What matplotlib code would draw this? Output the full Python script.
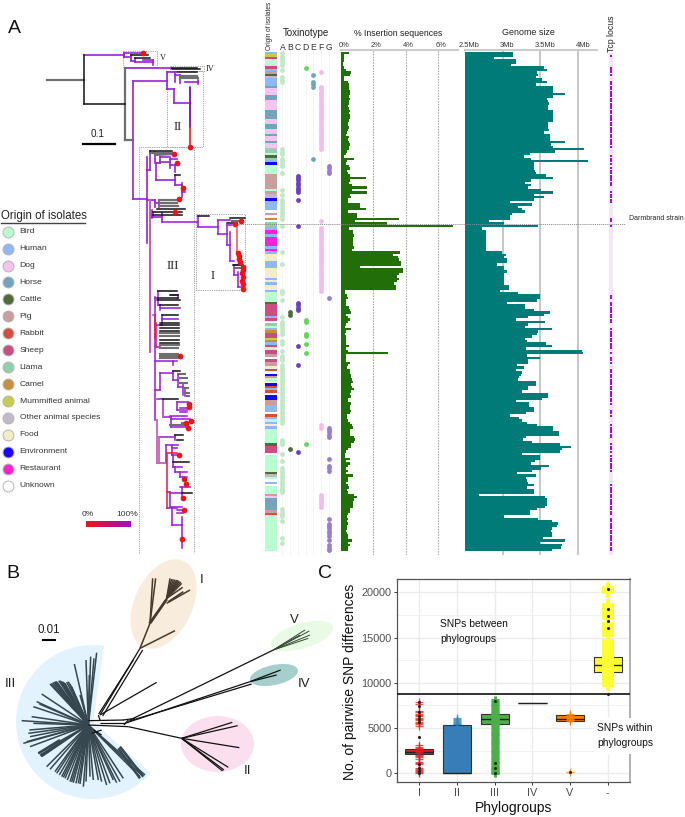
import numpy as np
import matplotlib
matplotlib.use("Agg")
import matplotlib.pyplot as plt
from matplotlib.collections import LineCollection
from matplotlib.patches import Ellipse, Polygon, Rectangle

plt.rcParams['font.family'] = ['Liberation Sans', 'DejaVu Sans']

W, H = 685, 817

# ---- panel A, per isolate values (top to bottom)
is_pct = [.53,.2,.18,.18,.15,.15,.18,.3,.64,.55,.2,.2,.45,.5,.5,.5,.55,.55,.5,.55,.5,.5,.45,.5,.55,.5,.55,.55,.5,.45,
          .45,.5,.45,.4,.35,.5,.45,.5,.55,.5,.5,.4,.3,.2,.85,.4,.35,.5,.6,.4,.45,.55,1.55,.6,.5,.7,1.6,.7,1.6,.6,
          .65,.45,.45,1.2,1.2,1.55,.45,1.0,1.0,3.6,.9,2.85,6.95,.5,.75,.75,.8,.75,.75,.75,.75,.85,.7,3.65,3.2,3.55,3.6,3.7,3.7,1.2,
          3.85,3.85,3.6,3.5,3.6,3.5,3.3,3.4,3.4,.25,.25,.4,.45,.3,.3,.3,.5,.6,.65,.3,.45,.55,.45,.3,.25,.65,.3,.25,.3,.3,
          .3,.3,.5,.3,.45,2.9,.3,.3,.35,.55,.45,.4,.55,.6,.65,.65,.7,.75,.65,.7,.8,.65,.55,.65,.45,.45,.65,.55,.6,.65,
          .55,.4,.4,.42,.55,.7,.75,.6,.55,.6,.8,.9,.8,.65,.65,.45,.3,.25,.25,.6,.3,.55,.45,.3,.45,.3,.75,.45,.45,.3,
          .45,.5,.4,.42,.8,1.0,.8,.76,.75,.75,.6,.55,.45,.4,.45,.4,.45,.4,.4,.33,.4,.45,.45,.7,.45,.55,.45,.45]
genome_mb = [3.13,3.13,2.88,3.18,3.18,3.11,3.54,3.59,3.46,3.47,3.44,3.52,3.59,3.44,3.67,3.67,3.67,3.82,3.66,3.58,3.6,3.61,3.6,3.6,3.66,3.66,3.66,3.66,3.67,3.6,
             3.6,3.6,3.61,3.55,3.63,3.63,3.63,3.83,3.64,3.66,4.08,3.69,3.36,3.28,3.38,4.13,3.42,3.41,3.41,3.43,3.44,3.57,3.66,3.38,3.29,3.38,3.34,3.51,3.66,3.41,
             3.54,3.41,3.09,3.39,3.2,3.25,3.3,3.12,3.1,3.1,2.82,3.01,3.47,2.72,2.78,2.78,2.78,2.78,2.78,2.78,2.78,2.78,2.78,2.99,3.04,3.01,3.05,3.05,2.93,3.01,
             3.02,3.05,3.01,3.02,3.02,3.01,3.01,3.08,3.08,2.96,3.2,3.49,3.49,3.45,3.05,3.3,3.3,3.42,3.63,3.54,3.33,3.17,3.56,3.33,3.29,3.65,3.47,3.46,3.39,3.29,
             3.32,3.57,3.65,3.31,4.05,4.06,3.32,3.5,3.34,3.34,3.19,3.28,3.18,3.26,3.24,3.22,3.2,3.44,3.44,3.34,3.33,3.25,3.6,3.6,3.52,3.18,3.35,3.35,3.41,3.41,
             3.31,3.09,3.21,3.25,3.32,3.45,3.66,3.67,3.74,3.74,3.31,3.27,3.39,3.76,3.9,3.78,3.76,3.26,3.5,3.49,3.43,3.38,3.61,3.51,3.39,3.19,3.44,3.31,3.32,3.34,
             3.42,3.32,3.42,3.42,2.69,3.56,3.58,3.59,3.59,3.56,3.45,3.36,3.36,3.02,3.47,3.65,3.73,3.72,3.65,3.64,3.65,3.65,3.53,3.82,3.5,3.78,3.77,3.65]

origin_names = ['Bird', 'Human', 'Dog', 'Horse', 'Cattle', 'Pig', 'Rabbit', 'Sheep', 'Llama', 'Camel',
                'Mummified animal', 'Other animal species', 'Food', 'Environment', 'Restaurant', 'Unknown']
origin_colors = ['#b9fdd1', '#8fb8f8', '#f5c4ee', '#72a5bd', '#4f6b3a', '#c99f9c', '#d2503d', '#c94f80', '#8fd0ab', '#c79040',
                 '#c8cc48', '#c3b9c6', '#f1edca', '#1a00ff', '#ff22d0', '#ffffff']
# strip of origins as runs: (origin index, number of isolates)
origin_runs = [(1,1),(10,1),(7,1),(0,3),(7,1),(1,1),(5,1),(4,1),(11,1),(1,3),(3,1),(2,3),(3,2),(2,4),(3,4),(2,2),(3,2),(2,2),(3,1),(2,2),
               (3,1),(2,2),(11,1),(8,1),(0,1),(4,1),(8,1),(1,1),(13,1),(0,4),(5,6),(0,1),(5,1),(11,2),(13,1),(1,4),(15,1),(5,1),(15,1),(9,1),
               (15,1),(8,1),(8,1),(1,1),(14,2),(1,1),(14,4),(1,1),(14,1),(1,1),(12,3),(1,3),(12,4),(1,1),(12,1),(1,1),(12,2),(1,1),(0,4),(4,1),
               (7,5),(1,1),(7,1),(15,1),(8,1),(0,1),(1,1),(9,1),(7,2),(10,1),(9,1),(1,1),(7,1),(0,1),(7,2),(5,1),(15,1),(7,1),(5,2),(12,1),
               (6,1),(15,1),(13,1),(5,1),(0,1),(15,1),(13,1),(6,1),(1,1),(6,1),(15,1),(13,2),(5,2),(1,3),(15,1),(6,1),(1,1),(0,1),(1,1),(12,1),
               (1,1),(0,6),(4,1),(7,3),(15,1),(0,7),(4,1),(11,1),(0,1),(15,1),(1,1),(15,1),(0,3),(5,1),(2,1),(3,5),(5,1),(6,1),(0,15)]

tox_labels = ['A', 'B', 'C', 'D', 'E', 'F', 'G']
tox_colors = ['#c2e8c6', '#4f6b3a', '#6a3fc4', '#66d35a', '#72a5bd', '#f3bde8', '#9580cf']
# rows with each toxinotype, as (first, last)
tox_rows = [
    [(0,5),(7,7),(10,12),(40,42),(44,47),(50,50),(57,57),(59,59),(61,69),(72,72),(83,83),(88,88),(99,100),(103,103),(110,110),(112,117),
     (120,121),(124,124),(126,128),(130,154),(161,163),(167,167),(170,170),(173,183),(190,193),(195,195),(202,202),(204,204)],
    [(108,109),(165,165)],
    [(51,56),(57,58),(61,61),(72,72),(104,107),(122,122),(130,130),(166,166)],
    [(6,6),(111,112),(117,118),(121,121),(125,125),(163,163)],
    [(9,9),(12,14),(44,44)],
    [(8,8),(14,40),(70,70),(73,83),(84,88),(89,99),(155,156),(184,189)],
    [(47,50),(102,102),(156,160),(169,169),(172,174),(194,194),(196,201),(203,203),(205,207)],
]
tcp_rows = [(1,1),(6,9),(12,39),(43,46),(48,50),(51,55),(58,62),(69,70),(72,72),(101,102),(104,112),(115,119),(120,123),(125,125),
            (127,129),(132,146),(149,151),(155,160),(163,166),(168,174),(180,192),(194,198),(199,207)]

# ---- tree of panel A, branches in thirds of a pixel (top part, from y=0)
tree_purple = [(253,165,372,165),(372,158,372,172),(372,158,430,158),(372,172,392,172),(392,165,392,182),(392,182,405,182),(405,175,405,187),
               (405,187,460,187),(430,180,460,180),(460,180,460,195),
               (375,205,515,205),(400,243,400,598),(400,243,500,243),(400,598,440,598),
               (500,215,500,268),(500,215,525,215),(525,215,525,245),(525,225,540,225),(540,225,540,250),(500,268,522,268),(522,268,522,310),
               (522,310,571,310),(571,260,571,380),(555,245,595,245),(595,240,595,252),
               (440,470,440,730),(450,452,450,510),(440,510,450,510),(450,460,465,460),(465,455,465,490),(468,490,480,490),(480,470,480,490),
               (480,470,510,470),(480,487,510,487),(510,478,510,505),(510,478,530,478),(510,495,525,495),(525,495,525,515),(468,490,468,540),
               (468,540,525,540),(525,525,525,555),(525,555,545,555),(545,550,545,590),(545,560,555,560),(545,575,555,575),
               (440,600,465,600),(465,600,465,620),(465,610,478,610),(478,600,478,620),(450,650,455,650),(455,630,455,655),(455,645,460,645),
               (460,635,460,650),(460,650,487,650),(487,640,487,665)]
tree_black = [(253,165,253,313),(253,313,375,313),(392,165,445,165),(405,175,450,175),(515,203,590,203),(515,208,600,208),
              (530,215,590,215),(450,452,515,452),(525,525,540,525),(460,635,545,635),(470,628,555,628),(460,645,545,645)]
tree_gray = [(140,240,253,240),(375,205,375,420),(375,420,400,420),(540,228,590,228),(540,235,595,235),(452,458,520,458),(465,465,520,462),
             (478,600,535,600),(478,608,530,608),(478,617,535,617)]
tree_red = [(571,380,571,440)]
# lower part, y counted from pixel row 200
low_purple = [(450,0,450,455),(465,290,465,660),(487,65,595,65),(595,48,595,80),(595,80,655,80),(655,60,655,103),(655,60,690,60),(655,103,680,103),
              (680,75,680,135),(680,75,695,75),(690,95,690,182),(680,135,690,135),(690,182,702,182),(702,195,702,225),(702,195,715,195),(702,225,715,225),
              (715,215,715,260),(715,260,727,260),
              (465,295,475,295),(475,272,475,315),(475,315,480,315),(480,315,480,330),(480,325,540,325),(513,285,535,285),(535,285,535,295),
              (487,345,487,375),(487,358,535,358),(465,375,487,375),(468,440,480,440),(465,483,530,483),(520,483,520,495),
              (465,570,480,570),(480,520,480,570),(480,520,520,520),(520,512,520,540),(520,540,535,540),(535,522,540,522),(535,522,535,560),(535,560,550,560),
              (550,550,550,585),(555,565,555,588),(470,598,490,598),(490,598,490,650),(490,650,513,650),(513,650,513,680),(513,680,560,680),(513,658,570,658),
              (530,605,565,605),(530,605,530,630),(530,630,560,630),(540,625,560,625),(540,635,560,635),(510,648,560,648),
              (478,710,525,710),(525,705,525,720),(497,790,497,735),(497,735,535,735),(515,735,515,765),(515,745,530,745),(515,765,535,765),(520,765,520,800),
              (520,800,545,800),(525,800,525,815),(525,815,560,815),(540,815,540,830),(540,830,560,830),(540,860,570,860),(545,860,545,890),(510,880,545,880),
              (510,875,510,920),(510,920,545,920),(500,925,530,925),(515,925,515,975),(515,975,545,975),(545,950,545,1045),(530,930,555,930),(530,940,550,940)]
low_black = [(595,48,627,48),(690,55,735,55),(680,70,710,70),(475,272,530,272),(510,285,535,285),(475,295,535,295),(472,300,540,300),(480,315,535,315),
             (487,345,535,345),(480,368,537,368),(480,376,537,376),(480,384,537,384),(480,392,537,392),(480,420,537,420),(480,428,537,428),(520,512,540,512),
             (490,598,535,598),(525,705,550,705),(530,720,550,720),(520,785,568,785),(545,878,575,878),(700,195,730,195)]
low_gray = [(695,62,720,62),(480,400,537,400),(480,408,537,408),(480,436,537,436),(480,444,535,444),(480,462,535,462),(480,468,535,468),(480,475,535,475),
            (705,205,725,205),(540,522,555,522),(540,535,560,535),(540,550,560,550),(550,565,565,565),(555,578,568,578),(560,588,568,588),
            (510,675,565,675),(545,670,560,670)]
low_pink = [(712,85,712,155),(450,0,450,455),(470,660,470,790),(470,790,495,790),(478,710,478,790),(460,345,465,345),(490,600,490,650)]
low_red = [(465,345,465,415),(468,370,468,440),(500,760,500,925),(500,760,530,760),(500,875,510,875)]
tip_dots = [(430,158),(571,440),(523,461),(530,490),(550,563),(537,598),(525,635),(723,663),(706,672)]
low_dots = [(714,158),(716,168),(718,178),(721,187),(728,200),(728,210),(727,220),(729,232),(727,243),(728,252),(729,266),
            (539,467),(568,612),(568,622),(573,662),(558,670),(563,684),(536,765),(552,838),(558,852),(548,893),(553,930),(546,1017)]

# ---- panel B, branches in thirds of a pixel, y counted from pixel row 560
b_black = [(300,465,420,265),(308,468,428,270),(296,462,400,300),(300,465,470,367),(390,480,820,270),(375,490,750,365),(385,484,755,372),(265,495,385,500),(265,482,372,480),
           (300,490,375,490),(385,500,545,535),(370,480,405,475),(372,495,385,480),(545,535,697,487),(545,535,713,497),(545,535,718,563),(545,535,685,622),(545,535,672,630),
           (545,535,668,633),(750,365,842,330),(750,365,830,345),(280,510,305,525),(275,520,305,510),(295,465,300,480)]
b_brown = [(420,265,450,190),(450,190,500,115),(452,190,502,118),(447,190,498,118),(450,190,458,55),(450,190,467,55),(420,265,525,212),(500,130,570,90),(500,115,510,55),(500,115,515,57),(500,115,520,58),(500,115,525,59),(500,115,530,60),
           (500,115,534,61),(500,115,538,63),(500,115,542,66),(500,115,545,70),(500,115,548,82),(505,125,550,95)]
b_v = [(820,270,915,210),(820,270,928,213),(820,270,930,225),(820,270,925,235),(820,270,900,225)]
fan_x = [290,282,272,258,268,223,240,150,154,158,162,165,168,172,176,180,184,188,192,195,200,205,210,215,125,100,110,118,95,65,100,88,85,90,70,80,90,115,120,125,140,150,165,170,178,185,190,195,202,210,215,220,228,235,240,250,258,270,280,295,305,320,330,340,350,360,370,420,428,435]
fan_y = [278,295,290,300,345,312,405,372,370,368,366,365,364,368,362,362,364,365,368,370,366,365,372,380,402,440,425,432,470,482,490,510,520,530,550,545,560,580,585,590,620,628,635,640,645,650,652,655,660,665,666,668,670,670,672,680,665,650,660,660,665,675,670,660,668,665,655,650,648,645]
b_slate_thick = [(115,580,180,540),(122,588,185,545),(360,560,430,650),(355,565,420,655),(250,470,215,440),(225,445,250,470)]

legend_y0, legend_step = 231.7, 16.93

# ---- panel C
groups = ['I', 'II', 'III', 'IV', 'V', '-']
group_colors = ['#e41a1c', '#377eb8', '#4daf4a', '#984ea3', '#ff7f00', '#ffff33']
q1 = [2100, 0, 5450, 7790, 5750, 11200]
med = [2400, 0, 6000, 7800, 6000, 12000]
q3 = [2700, 5300, 6550, 7810, 6400, 12800]
whislo = [1500, 0, 3900, 7790, 5400, 9800]
whishi = [3300, 5300, 8000, 7810, 6500, 14600]
pts_i = [0,120,240,360,480,600,1000,1150,1300,1600,1750,1900,2050,2200,2350,2500,2650,2800,2950,3100,5250,5400,5550,5700,5850,6000,6150,6300,6450,6600,6750,6900,7700,7900]
pts_ii = [5400,5500,5600,5700,5800,5900,6000,6100]
pts_iii = [0,150,300,450,600,750,900,1100,1300,1500,1700,1900,2100,2300,2500,2700,2900,3100,3300,3500,3700,3900,4100,4300,4500,4700,4900,5100,5300,5500,5700,5900,6100,6300,6500,6700,6900,7100,7300,7500,7700,7900,8050]
pts_v = [100,5800,5900,6000,6100,6200,6300,6400,6500]
pts_all = [9800,10000,10200,10400,10600,10800,11000,11200,11400,11600,11800,12000,12200,12400,12600,12800,13000,13200,13400,13600,13800,14000,14200,14400,14600,
           15300,15500,15700,15900,16100,16300,16500,17200,17400,17600,17800,18000,18200,18400,18600,20000,20150,20300,20450]
out_i = [0,300,600,1000,4000,5700,6000,6300,6800,7400,7900]
out_iii = [0,600,1100,8000]
out_v = [100]
out_all = [8800,16000,16800,17400,18100,20400]
SNP_LINE = 8770


def px_axes(fig, x0, x1, y0, y1):
    return fig.add_axes([x0 / W, 1 - y1 / H, (x1 - x0) / W, (y1 - y0) / H])


def expand(ranges):
    out = []
    for a, b in ranges:
        out.extend(range(a, b + 1))
    return out


def thirds(segs, dy=0):
    return [[(a / 3, (b + dy) / 3), (c / 3, (d + dy) / 3)] for a, b, c, d in segs]


fig = plt.figure(figsize=(W / 100, H / 100), dpi=100)

rows = np.arange(len(is_pct))
ROW_TOP, ROW_H = 52, 2.4
row_lim = ((555 - ROW_TOP) / ROW_H - .5, (50 - ROW_TOP) / ROW_H - .5)

# origin strip
ax_strip = px_axes(fig, 265, 277.4, 50, 555)
strip = []
for idx, n in origin_runs:
    strip += [idx] * n
strip = strip[:len(rows)]
ax_strip.barh(np.arange(len(strip)), 1, height=1, color=[origin_colors[k] for k in strip], linewidth=0)
ax_strip.set_xlim(0, 1)
ax_strip.set_ylim(*row_lim)
ax_strip.axis('off')

# toxinotypes
ax_tox = px_axes(fig, 278.4, 336.8, 50, 555)
for i, r in enumerate(tox_rows):
    ax_tox.axvline(i, color='#f1f1f1', lw=.6, zorder=0)
    ax_tox.scatter([i] * len(expand(r)), expand(r), s=12, color=tox_colors[i], linewidths=0, zorder=2)
ax_tox.set_xlim(-.5, 7)
ax_tox.set_ylim(*row_lim)
ax_tox.axis('off')

# insertion sequences
ax_is = px_axes(fig, 340.7, 457.7, 50, 555)
ax_is.barh(rows, is_pct, height=1.05, color='#226f0a', linewidth=0, zorder=3)
ax_is.set_xlim(0, 117 / 16.2)
ax_is.set_ylim(*row_lim)
ax_is.patch.set_alpha(0)
for s in ['left', 'right', 'bottom']:
    ax_is.spines[s].set_visible(False)
ax_is.spines['top'].set_color('#cccccc')
ax_is.spines['top'].set_linewidth(1.5)
for v in [2, 4, 6]:
    ax_is.axvline(v, color='#aaaaaa', ls=(0, (1.5, 1)), lw=.8, zorder=1)
ax_is.set_xticks([])
ax_is.set_yticks([])
for v, t in zip([0, 2, 4, 6], ['0%', '2%', '4%', '6%']):
    ax_is.annotate(t, (v, 1), xycoords=('data', 'axes fraction'), xytext=(2.2, 1), textcoords='offset points',
                   ha='center', va='bottom', fontsize=5.4, color='#333333')

# genome size
ax_g = px_axes(fig, 465, 597, 50, 555)
ax_g.barh(rows, np.array(genome_mb) - 2.5, left=2.5, height=1.05, color='#007b78', linewidth=0, zorder=3)
ax_g.set_xlim(2.5, 2.5 + 132 / 75.5)
ax_g.set_ylim(*row_lim)
ax_g.patch.set_alpha(0)
for s in ['left', 'right', 'bottom']:
    ax_g.spines[s].set_visible(False)
ax_g.spines['top'].set_color('#cccccc')
ax_g.spines['top'].set_linewidth(1.5)
for v in [3, 3.5, 4]:
    ax_g.axvline(v, color='#bdbdbd', lw=1.2, zorder=1)
ax_g.set_xticks([])
ax_g.set_yticks([])
for v, t in zip([2.5, 3, 3.5, 4], ['2.5Mb', '3Mb', '3.5Mb', '4Mb']):
    ax_g.annotate(t, (v, 1), xycoords=('data', 'axes fraction'), xytext=(3.2, 1), textcoords='offset points',
                  ha='center', va='bottom', fontsize=5.4, color='#333333')

# Tcp locus
ax_tcp = px_axes(fig, 608.5, 612.5, 50, 555)
ax_tcp.axvspan(0, 1, ymin=0, ymax=.995, color='#f3e6fb', lw=0)
tcp = expand(tcp_rows)
ax_tcp.scatter([.5] * len(tcp), tcp, s=2.4, marker='s', color='#9b12d6', linewidths=0)
ax_tcp.set_xlim(0, 1)
ax_tcp.set_ylim(*row_lim)
ax_tcp.axis('off')

# everything drawn in page pixels: trees, legend, labels
ax = fig.add_axes([0, 0, 1, 1], zorder=5)
ax.set_xlim(0, W)
ax.set_ylim(H, 0)
ax.axis('off')
ax.patch.set_alpha(0)

# boxes round the phylogroups
box_style = dict(fill=False, ec='#9a9a9a', lw=.6, ls=(0, (1.5, 1.2)))
for x, y, w, h in [(123.5, 51, 33.5, 16), (170, 66, 34, 5), (167, 71, 36, 76), (196.5, 214, 49, 76)]:
    ax.add_patch(Rectangle((x, y), w, h, **box_style))
ax.plot([139, 139, 194, 194], [553, 147, 147, 553], color='#9a9a9a', lw=.6, ls=(0, (1.5, 1.2)))
ax.plot([238, 625], [224, 224], color='#8a8a8a', lw=.6, ls=(0, (1.5, 1)))

for segs, col, lw in [(thirds(tree_purple), '#9a20d8', 1.2), (thirds(low_purple, 600), '#9a20d8', 1.15),
                      (thirds(low_pink, 600), '#c860c0', 1.3), (thirds(tree_gray), '#6f6f6f', 1.6), (thirds(low_gray, 600), '#6f6f6f', 1.5),
                      (thirds(tree_black), '#111111', 1.1), (thirds(low_black, 600), '#111111', 1.1),
                      (thirds(tree_red), '#ee1c25', 1.2), (thirds(low_red, 600), '#e0204a', 1.15)]:
    ax.add_collection(LineCollection(segs, colors=col, linewidths=lw, zorder=2, capstyle='projecting'))
ax.add_collection(LineCollection([[(571 / 3, 260 / 3), (571 / 3, 380 / 3)]], colors='#7a1fa8', linewidths=1.1, zorder=2))
ax.add_collection(LineCollection([[(712 / 3, 685 / 3), (712 / 3, 755 / 3)]], colors='#f07a80', linewidths=1.5, zorder=2))
ax.scatter([p[0] / 3 for p in tip_dots], [p[1] / 3 for p in tip_dots], s=17, color='#f01414', linewidths=0, zorder=4)
ax.scatter([p[0] / 3 for p in low_dots], [(p[1] + 600) / 3 for p in low_dots], s=17, color='#f01414', linewidths=0, zorder=4)

ax.plot([83, 115], [144, 144], color='k', lw=1.6)
ax.text(97.5, 134, '0.1', ha='center', va='center', fontsize=7.2, color='#222222')
for t, x, y, fs in [('V', 162.5, 58, 6), ('IV', 210.5, 69, 6), ('II', 178, 127, 9.3), ('III', 173, 266, 9.3), ('I', 213, 276, 9.3)]:
    ax.text(x, y, t, ha='center', va='center', fontsize=fs, family='Liberation Serif', color='#222222')

# legend
ax.text(1.5, 215.5, 'Origin of isolates', ha='left', va='center', fontsize=8.3, color='#222222')
ax.plot([1, 85.5], [223, 223], color='#444444', lw=1)
for i, (name, col) in enumerate(zip(origin_names, origin_colors)):
    ax.scatter([8], [legend_y0 + legend_step * i], s=62, color=col, edgecolors='#b5b5b5', linewidths=.7, zorder=3)
    ax.text(19.7, legend_y0 + legend_step * i, name, ha='left', va='center', fontsize=6.1, color='#333333')

ax.imshow(np.linspace(0, 1, 256)[None, :], extent=(86, 131, 527, 521), aspect='auto', zorder=3,
          cmap=matplotlib.colors.LinearSegmentedColormap.from_list('support', ['#f01414', '#9a10c8']))
ax.set_xlim(0, W)
ax.set_ylim(H, 0)
ax.text(88, 514, '0%', ha='center', va='center', fontsize=6.1, color='#333333')
ax.text(127, 514, '100%', ha='center', va='center', fontsize=6.1, color='#333333')

# panel A headers
ax.text(270, 26, 'Origin of isolates', rotation=90, ha='center', va='center', fontsize=4.7, color='#222222')
ax.text(305.5, 33, 'Toxinotype', ha='center', va='center', fontsize=7, color='#222222')
ax.text(398, 33, '% Insertion sequences', ha='center', va='center', fontsize=6.3, color='#222222')
ax.text(528, 32.5, 'Genome size', ha='center', va='center', fontsize=6.4, color='#222222')
ax.text(611.5, 33.5, 'Tcp locus', rotation=90, ha='center', va='center', fontsize=6.3, color='#222222')
ax.text(629, 218, 'Darmbrand strain', ha='left', va='center', fontsize=5, color='#222222')
for i, t in enumerate(tox_labels):
    ax.text(282.4 + i * 7.75, 47.5, t, ha='center', va='center', fontsize=6.2, color='#333333')

ax.text(14, 28, 'A', ha='center', va='center', fontsize=14, color='#111111')
ax.text(12.5, 574, 'B', ha='center', va='center', fontsize=14, color='#111111')
ax.text(325, 574, 'C', ha='center', va='center', fontsize=14, color='#111111')

# panel B shading and branches
ang = np.deg2rad(np.arange(81.6, 320.3, 3))
cx, cy, r = 93, 722, 77
wedge = [(cx, cy)] + [(cx + r * np.cos(a), cy - r * np.sin(a)) for a in ang]
ax.add_patch(Polygon(wedge, closed=True, fc='#e3f3fd', ec='none', zorder=1))
for (x, y, w, h, a, col) in [(163.5, 604, 58, 95, 25, '#f8ecdc'), (217.5, 744, 73, 56, 0, '#fbdfee'),
                             (274, 675, 49, 20, -12, '#a4cfcc'), (302, 636, 65, 25, -17, '#eafbe5')]:
    ax.add_patch(Ellipse((x, y), w, h, angle=a, fc=col, ec='none', zorder=1))
fan = [[(265 / 3, 495 / 3 + 560), (a / 3, b / 3 + 560)] for a, b in zip(fan_x, fan_y)]
ax.add_collection(LineCollection(fan, colors='#37474f', linewidths=1.1, zorder=2))
ax.add_collection(LineCollection(thirds(b_slate_thick, 1680), colors='#37474f', linewidths=1.8, zorder=2))
ax.add_collection(LineCollection(thirds(b_black, 1680), colors='#111111', linewidths=.9, zorder=3))
ax.add_collection(LineCollection(thirds(b_brown, 1680), colors='#44392c', linewidths=1.1, zorder=3))
ax.add_collection(LineCollection(thirds(b_v, 1680), colors='#334433', linewidths=.7, zorder=3))
ax.plot([43.5, 55.5], [639.5, 639.5], color='k', lw=1.5)
ax.text(49, 630, '0.01', ha='center', va='center', fontsize=8.3, color='#222222')
for t, x, y in [('I', 202, 580), ('V', 294, 620), ('IV', 304, 684), ('II', 248, 771), ('III', 10.5, 684)]:
    ax.text(x, y, t, ha='center', va='center', fontsize=9.5, color='#222222')

# panel C
ax_c = px_axes(fig, 397.3, 630, 579.3, 782.3)
stats = [dict(med=m, q1=a, q3=b, whislo=lo, whishi=hi, fliers=[]) for m, a, b, lo, hi in zip(med, q1, q3, whislo, whishi)]
bp = ax_c.bxp(stats, positions=range(1, 7), widths=.75, patch_artist=True, showcaps=False, zorder=3,
              boxprops=dict(edgecolor='#333333', linewidth=.8),
              medianprops=dict(color='#222222', linewidth=1),
              whiskerprops=dict(color='#333333', linewidth=.6))
for box, col in zip(bp['boxes'], group_colors):
    box.set_facecolor(col)
for i, p in enumerate([pts_i, pts_ii, pts_iii, [], pts_v, pts_all]):
    if i == 5:
        ax_c.scatter([i + 1] * len(p), p, marker='+', s=70, lw=2.6, color=group_colors[i], zorder=4)
    elif i == 2:
        ax_c.scatter([i + 1] * len(p), p, marker='+', s=30, lw=2.2, color=group_colors[i], zorder=4)
    else:
        ax_c.scatter([i + 1] * len(p), p, marker='+', s=30, lw=.9, color=group_colors[i], alpha=.75, zorder=4)
for i, p in [(1, out_i), (3, out_iii), (5, out_v), (6, out_all)]:
    ax_c.scatter([i] * len(p), p, s=5, color='#222222', linewidths=0, zorder=5)
ax_c.axhline(SNP_LINE, color='#222222', lw=1.3, zorder=6)
ax_c.set_xlim(.416, 6.59)
ax_c.set_ylim(-995, 21436)
ax_c.set_xticks(range(1, 7))
ax_c.set_xticklabels(groups)
ax_c.set_yticks([0, 5000, 10000, 15000, 20000])
ax_c.set_yticks([2500, 7500, 12500, 17500], minor=True)
ax_c.grid(True, which='major', color='#ebebeb', lw=1, zorder=0)
ax_c.grid(True, which='minor', axis='y', color='#f0f0f0', lw=.6, zorder=0)
ax_c.tick_params(axis='both', which='major', labelsize=7.8, labelcolor='#4d4d4d', color='#333333', length=2.5, width=.7, pad=1.5)
ax_c.tick_params(axis='both', which='minor', length=0)
ax_c.set_axisbelow(True)
for s in ax_c.spines.values():
    s.set_color('#555555')
    s.set_linewidth(.9)
ax_c.spines['right'].set_color('#aaaaaa')
ax_c.spines['right'].set_linewidth(1.3)
ax.text(350, 682, 'No. of pairwise SNP differences', rotation=90, ha='center', va='center', fontsize=10, color='#111111')
ax.text(514, 808, 'Phylogroups', ha='center', va='center', fontsize=10, color='#111111')
ax.text(440, 624, 'SNPs between', ha='left', va='center', fontsize=7.4, color='#111111')
ax.text(440, 639, 'phylogroups', ha='left', va='center', fontsize=7.4, color='#111111')
ax.add_patch(Rectangle((594, 718), 64, 36, fc='white', ec='none', zorder=2))
ax.text(597, 727.7, 'SNPs within', ha='left', va='center', fontsize=7.4, color='#111111')
ax.text(597, 743.3, 'phylogroups', ha='left', va='center', fontsize=7.4, color='#111111')

fig.savefig('out.png', dpi=100)
